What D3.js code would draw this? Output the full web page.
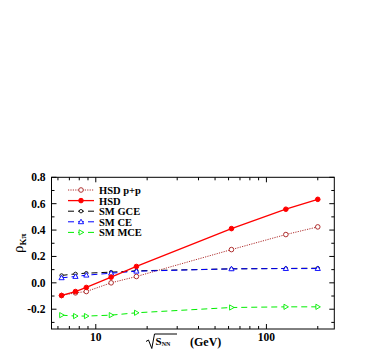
<!DOCTYPE html>
<html><head><meta charset="utf-8">
<script src="https://cdn.jsdelivr.net/npm/d3@7"></script>
<style>body{margin:0;background:#fff}svg{display:block}text{font-family:"Liberation Serif","Times New Roman",serif;font-weight:bold}</style>
</head><body>
<script>
const energies = [6.3, 7.6, 8.8, 12.3, 17.3, 62.4, 130, 200];
const hsdPP  = [-0.096, -0.076, -0.066, 0.000, 0.048, 0.252, 0.366, 0.424];
const hsd    = [-0.096, -0.066, -0.035, 0.043, 0.124, 0.411, 0.558, 0.633];
const smGCE  = [0.056, 0.068, 0.073, 0.081, 0.091, 0.106, 0.109, 0.111];
const smCE   = [0.038, 0.048, 0.058, 0.073, 0.088, 0.106, 0.108, 0.108];
const smMCE  = [-0.245, -0.252, -0.252, -0.245, -0.227, -0.187, -0.182, -0.182];
const seriesNames = ["HSD p+p", "HSD", "SM GCE", "SM CE", "SM MCE"];
const yTickLabels = [-0.2, 0.0, 0.2, 0.4, 0.6, 0.8];
const xTickLabels = [10, 100];

const W = 382, H = 354;
const svg = d3.select("body").append("svg").attr("width", W).attr("height", H);
const L = 51.5, R = 334.3, T = 177.3, B = 329;
const x = d3.scaleLog().domain([5.5, 250]).range([L, R]);
const y = d3.scaleLinear().domain([-0.35, 0.8]).range([B, T]);

const series = [
  {name: seriesNames[0], vals: hsdPP, color: "#b03030", dash: "1.2,1.2", marker: "circle", fill: "#fff", w: 1},
  {name: seriesNames[1], vals: hsd, color: "#ff0000", dash: null, marker: "circle", fill: "#ff0000", w: 1.3},
  {name: seriesNames[2], vals: smGCE, color: "#000000", dash: "6,4", marker: "smallcircle", fill: "#fff", w: 1},
  {name: seriesNames[3], vals: smCE, color: "#0000ff", dash: "6,4", marker: "triangle", fill: "#fff", w: 1},
  {name: seriesNames[4], vals: smMCE, color: "#00ee00", dash: "6,4", marker: "triright", fill: "#fff", w: 1},
];

svg.append("rect").attr("x", L).attr("y", T).attr("width", R - L).attr("height", B - T)
  .attr("fill", "none").attr("stroke", "#000").attr("stroke-width", 1);

const yMajor = yTickLabels;
const yMinor = d3.range(-0.3, 0.81, 0.1).map(v => +v.toFixed(2));
const g = svg.append("g").attr("stroke", "#000").attr("stroke-width", 1);
yMinor.forEach(v => {
  const isMaj = yMajor.some(m => Math.abs(m - v) < 1e-6);
  const len = isMaj ? 5 : 3;
  g.append("line").attr("x1", L).attr("x2", L + len).attr("y1", y(v)).attr("y2", y(v));
  g.append("line").attr("x1", R).attr("x2", R - len).attr("y1", y(v)).attr("y2", y(v));
});
yMajor.forEach(v => {
  svg.append("text").attr("x", L - 6).attr("y", y(v) + 4).attr("text-anchor", "end")
    .attr("font-size", 11.5).text(v.toFixed(1));
});
const xMinor = [6,7,8,9,20,30,40,50,60,70,80,90,200];
xMinor.concat(xTickLabels).forEach(v => {
  const len = xTickLabels.includes(v) ? 5 : 3;
  g.append("line").attr("x1", x(v)).attr("x2", x(v)).attr("y1", B).attr("y2", B - len);
  g.append("line").attr("x1", x(v)).attr("x2", x(v)).attr("y1", T).attr("y2", T + len);
});
xTickLabels.forEach(v => {
  svg.append("text").attr("x", x(v)).attr("y", B + 12).attr("text-anchor", "middle")
    .attr("font-size", 11.5).text(v);
});

function drawMarker(sel, m, cx, cy) {
  if (m.marker === "circle") {
    sel.append("circle").attr("cx", cx).attr("cy", cy).attr("r", 2.3)
      .attr("fill", m.fill).attr("stroke", m.color).attr("stroke-width", 1);
  } else if (m.marker === "smallcircle") {
    sel.append("circle").attr("cx", cx).attr("cy", cy).attr("r", 1.7)
      .attr("fill", "#fff").attr("stroke", m.color).attr("stroke-width", 0.9);
  } else if (m.marker === "triangle") {
    sel.append("path").attr("d", `M${cx},${cy-2.6}L${cx+2.6},${cy+1.9}L${cx-2.6},${cy+1.9}Z`)
      .attr("fill", "#fff").attr("stroke", m.color).attr("stroke-width", 0.9);
  } else if (m.marker === "triright") {
    sel.append("path").attr("d", `M${cx+2.6},${cy}L${cx-1.9},${cy-2.6}L${cx-1.9},${cy+2.6}Z`)
      .attr("fill", "#fff").attr("stroke", m.color).attr("stroke-width", 0.9);
  }
}

const line = d3.line().x(d => x(d[0])).y(d => y(d[1]));
[0,4,2,3,1].forEach(i => {
  const s = series[i];
  const pts = energies.map((e, j) => [e, s.vals[j]]);
  svg.append("path").attr("d", line(pts)).attr("fill", "none")
    .attr("stroke", s.color).attr("stroke-width", s.w)
    .attr("stroke-dasharray", s.dash);
  const mg = svg.append("g");
  pts.forEach(p => drawMarker(mg, s, x(p[0]), y(p[1])));
});

const legY0 = 190, legDy = 10.6;
series.forEach((s, i) => {
  const ly = legY0 + i * legDy;
  svg.append("line").attr("x1", 68).attr("x2", 94).attr("y1", ly).attr("y2", ly)
    .attr("stroke", s.color).attr("stroke-width", s.w).attr("stroke-dasharray", s.dash);
  drawMarker(svg, s, 81, ly);
  svg.append("text").attr("x", 99).attr("y", ly + 4).attr("font-size", 10.5).text(s.name);
});

const yl = svg.append("text").attr("transform", "translate(23,253) rotate(-90)").attr("font-size", 15);
yl.append("tspan").attr("font-weight", "normal").text("ρ");
yl.append("tspan").attr("font-size", 9).attr("dy", 3).text("Kπ");

svg.append("path").attr("d", "M146,341.5 L148.5,340 L151.8,348.5 L154.5,334 L177,334")
  .attr("fill", "none").attr("stroke", "#000").attr("stroke-width", 1);
const xt = svg.append("text").attr("x", 155.5).attr("y", 345).attr("font-size", 11);
xt.append("tspan").text("S");
xt.append("tspan").attr("font-size", 6).attr("dy", 1).text("NN");
svg.append("text").attr("x", 190).attr("y", 346).attr("font-size", 12).text("(GeV)");
</script>
</body></html>
